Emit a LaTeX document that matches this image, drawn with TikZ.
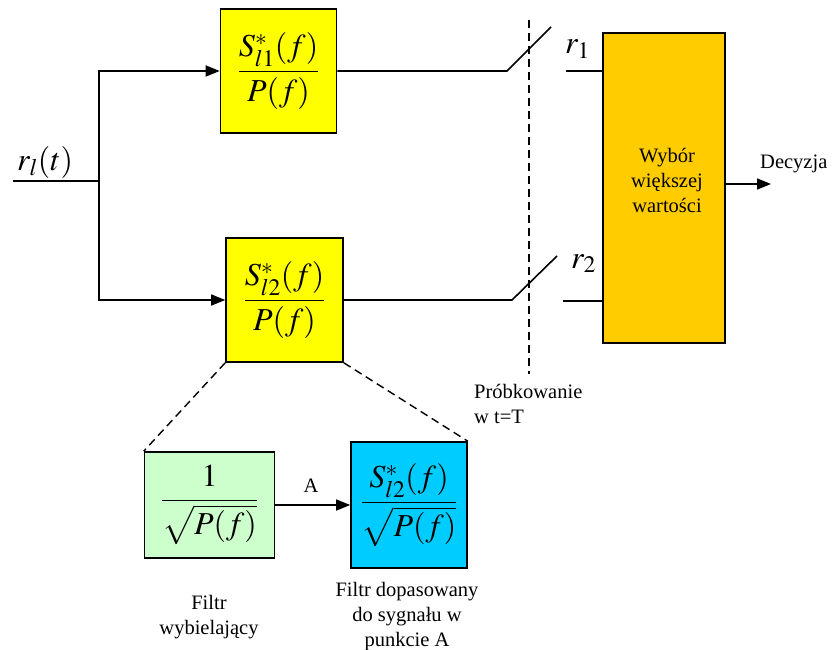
\documentclass[tikz,border=0pt]{standalone}
\usepackage{amsmath}
\usepackage{mathptmx}
\usepackage{fontspec}
\setmainfont{Liberation Serif}
\usetikzlibrary{arrows.meta}
\definecolor{filtyellow}{HTML}{FFFF00}
\definecolor{decorange}{HTML}{FFCC00}
\definecolor{whitegreen}{HTML}{CCFFCC}
\definecolor{matchblue}{HTML}{00CCFF}
% centred multi-line text whose baseline is that of its first line
\newcommand{\stackedtext}[1]{\begin{tabular}[t]{@{}c@{}}#1\end{tabular}}
\tikzset{
  blk/.style={draw, line width=1.6pt, inner sep=0pt, align=center},
  wire/.style={line width=1.6pt},
  arr/.style={wire, -{Triangle[length=14pt,width=11pt]}},
  guide/.style={line width=1.4pt, dash pattern=on 8pt off 5pt},
  bigmath/.style={font=\fontsize{32}{38}\selectfont},
  lbl/.style={font=\fontsize{20.5}{25}\selectfont, inner sep=0pt}
}
\begin{document}
\begin{tikzpicture}[x=1pt,y=-1pt]
\useasboundingbox (0,0) rectangle (832,650);

% matched filter branches
\node[blk, fill=filtyellow, minimum width=116pt, minimum height=124pt, bigmath] (f1) at (278.5,71)
  {$\dfrac{S^{*}_{l1}(f)}{P(f)}$};
\node[blk, fill=filtyellow, minimum width=117pt, minimum height=124pt, bigmath] (f2) at (284.5,300)
  {$\dfrac{S^{*}_{l2}(f)}{P(f)}$};

% decision block
\node[blk, fill=decorange, minimum width=122pt, minimum height=310pt] (dec) at (664,188) {};
\node[lbl, anchor=base] (dect) at (667,162) {\stackedtext{Wybór\\większej\\wartości}};

% expanded view of the lower filter
\node[blk, fill=whitegreen, minimum width=130pt, minimum height=106pt, bigmath] (wh) at (209.5,505)
  {$\dfrac{1}{\sqrt{P(f)}}$};
\node[blk, fill=matchblue, minimum width=116pt, minimum height=126pt, bigmath] (mf) at (409,505)
  {$\dfrac{S^{*}_{l2}(f)}{\sqrt{P(f)}}$};

% input
\coordinate (in) at (13,181);
\coordinate (split) at (99,181);
\node[bigmath, anchor=base west, inner sep=0pt] (rin) at (17,170) {$r_l(t)$};
\draw[wire] (in) -- (split);
\draw[arr] (split) |- (f1.west);
\draw[arr] (split) |- (f2.west);

% sampling switches
\coordinate (s1a) at (507,71);
\coordinate (s1b) at (551,27);
\coordinate (s1c) at (566,71);
\coordinate (s2a) at (512,300);
\coordinate (s2b) at (557,256);
\coordinate (s2c) at (563,301);
\draw[wire] (f1.east |- s1a) -- (s1a) -- (s1b);
\draw[wire] (s1c) -- (dec.west |- s1c);
\draw[wire] (f2.east |- s2a) -- (s2a) -- (s2b);
\draw[wire] (s2c) -- (dec.west |- s2c);
\node[bigmath, anchor=base west, inner sep=0pt] (r1) at (565,54) {$r_1$};
\node[bigmath, anchor=base west, inner sep=0pt] (r2) at (571,268) {$r_2$};

% sampling instant
\coordinate (smtop) at (529,20);
\coordinate (smbot) at (529,374);
\draw[guide] (smtop) -- (smbot);
\node[lbl, anchor=base west] (smp) at (474,398) {\begin{tabular}[t]{@{}l@{}}Próbkowanie\\w t=T\end{tabular}};

% output
\coordinate (out) at (771,184);
\draw[arr] (dec.east |- out) -- (out);
\node[lbl, anchor=base west] (decy) at (760,168) {Decyzja};

% zoom-out guides
\draw[guide] (f2.south west) -- (wh.north west);
\draw[guide] (f2.south east) -- (mf.north east);

% cascade of whitening filter and matched filter
\draw[arr] (wh.east) -- (mf.west);
\node[lbl, anchor=base] (pa) at (311,492) {A};
\node[lbl, anchor=base] (whl) at (209,609) {\stackedtext{Filtr\\wybielający}};
\node[lbl, anchor=base] (mfl) at (407,596) {\stackedtext{Filtr dopasowany\\do sygnału w\\punkcie A}};
\end{tikzpicture}
\end{document}
